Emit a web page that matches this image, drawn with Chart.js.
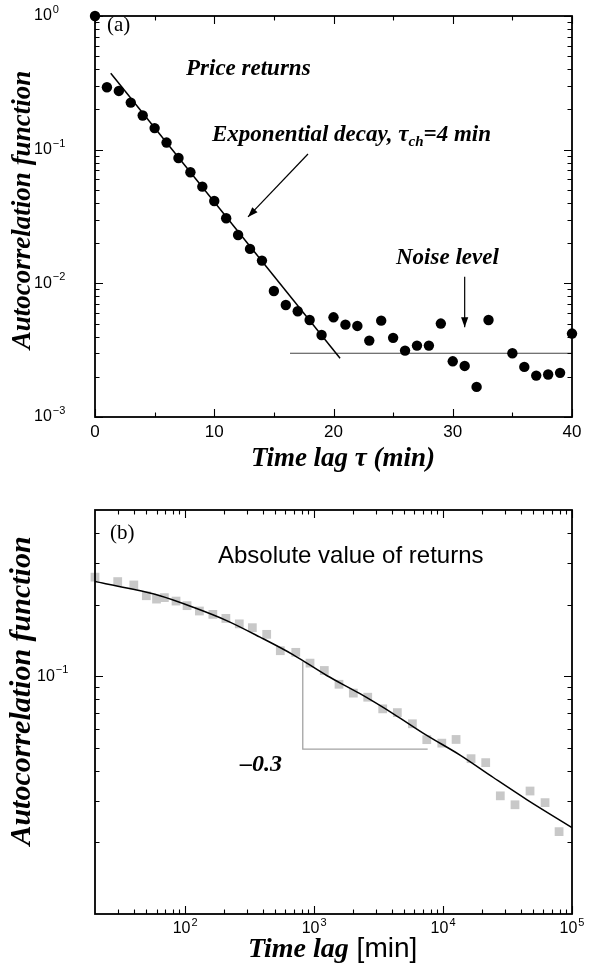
<!DOCTYPE html>
<html>
<head>
<meta charset="utf-8">
<script src="https://cdn.jsdelivr.net/npm/chart.js@4.4.1/dist/chart.umd.min.js"></script>
<style>
html,body{margin:0;padding:0;background:#fff;}
canvas{display:block;}
#wrapA{position:absolute;left:0;top:0;width:593px;height:480px;}
#wrapB{position:absolute;left:0;top:480px;width:593px;height:492px;}
</style>
</head>
<body>
<div id="wrapA"><canvas id="chartA" width="593" height="480"></canvas></div>
<div id="wrapB"><canvas id="chartB" width="593" height="492"></canvas></div>
<script>
// ================= Panel (a): price returns =================
const lagA = [0,1,2,3,4,5,6,7,8,9,10,11,12,13,14,15,16,17,18,19,20,21,22,23,24,25,26,27,28,29,30,31,32,33,35,36,37,38,39,40];
const acfPrice = [1.0,0.293,0.275,0.225,0.180,0.145,0.113,0.0867,0.0678,0.0529,0.0413,0.0307,0.0230,0.0181,0.0148,
  0.00877,0.00689,0.00618,0.00532,0.00411,0.00557,0.00491,0.00480,0.00373,0.00526,0.00391,0.00314,0.00342,0.00342,
  0.00500,0.00261,0.00241,0.00168,0.00532,0.00300,0.00237,0.00204,0.00208,0.00214,0.00421];
const expFitLag = [1.32, 20.55];
const expFitVal = [0.3726, 0.00275];
const noiseLag = [16.35, 40];
const noiseVal = [0.0030, 0.0030];
const arrowExpLag = [17.86, 12.83];
const arrowExpVal = [0.0928, 0.0314];
const arrowNoiseLag = [31, 31];
const arrowNoiseVal = [0.0112, 0.0047];
const xTicksA = [0, 10, 20, 30, 40];
const xTickLabelsA = ['0', '10', '20', '30', '40'];
const xMinorA = [5, 15, 25, 35];
const yTicksA = [0.001, 0.01, 0.1, 1];
const yTickBaseA = ['10', '10', '10', '10'];
const yTickExpA = ['\u22123', '\u22122', '\u22121', '0'];
const yMinorA = [0.002,0.003,0.004,0.005,0.006,0.007,0.008,0.009,
                 0.02,0.03,0.04,0.05,0.06,0.07,0.08,0.09,
                 0.2,0.3,0.4,0.5,0.6,0.7,0.8,0.9];

// ================= Panel (b): absolute returns =================
const lagB = [20,30,40,50,60,69,85,103.5,129,164,207,263,332,429,547,721,930,1200,1560,2015,2606,3405,4421,5785,
  7480,9780,12620,16490,21420,27800,36140,47270,61800,79400];
const acfAbs = [0.261,0.250,0.242,0.218,0.211,0.214,0.207,0.198,0.188,0.182,0.175,0.166,0.160,0.150,0.128,0.126,
  0.1135,0.1057,0.0925,0.0849,0.0816,0.0729,0.0703,0.0631,0.0541,0.0523,0.0542,0.0450,0.0433,0.0314,0.0288,
  0.0329,0.0294,0.0222];
const fitLagB = [20,35.3,63.8,115.7,210,381,690,1253,2270,4120,7480,13550,24550,44550,100000];
const fitValB = [0.250,0.235,0.218,0.195,0.1714,0.146,0.123,0.1007,0.0844,0.0695,0.0564,0.0466,0.0375,0.0303,0.0231];
const slopeLag = [817, 817, 7600];
const slopeVal = [0.1153, 0.0494, 0.0494];
const xTicksB = [100, 1000, 10000, 100000];
const xTickBaseB = ['10', '10', '10', '10'];
const xTickExpB = ['2', '3', '4', '5'];
const xMinorB = [30,40,50,60,70,80,90,200,300,400,500,600,700,800,900,
                 2000,3000,4000,5000,6000,7000,8000,9000,20000,30000,40000,50000,60000,70000,80000,90000];
const yTicksB = [0.1];
const yTickBaseB = ['10'];
const yTickExpB = ['\u22121'];
const yMinorB = [0.02,0.03,0.04,0.05,0.06,0.07,0.08,0.09,0.2,0.3,0.4];

// ================= helpers =================
const SERIF = '"Liberation Serif", "Times New Roman", serif';
const SANS = '"Liberation Sans", Arial, Helvetica, sans-serif';
const pts = (xs, ys) => xs.map((x, i) => ({x: x, y: ys[i]}));

function drawRuns(ctx, item) {
  ctx.save();
  ctx.translate(item.x, item.y);
  if (item.rotate) ctx.rotate(item.rotate);
  ctx.textBaseline = 'alphabetic';
  ctx.textAlign = 'left';
  let total = 0;
  item.runs.forEach(r => { ctx.font = r.font; total += ctx.measureText(r.text).width; });
  let cx = item.align === 'center' ? -total / 2 : 0;
  item.runs.forEach(r => {
    ctx.font = r.font;
    ctx.fillStyle = '#000';
    ctx.fillText(r.text, cx, r.dy || 0);
    cx += ctx.measureText(r.text).width;
  });
  ctx.restore();
}

// tick label: base text with optional superscript exponent
function drawTickLabel(ctx, base, exp, x, y, align, size) {
  ctx.save();
  ctx.fillStyle = '#000';
  ctx.textBaseline = 'middle';
  ctx.textAlign = 'left';
  const baseFont = size + 'px ' + SANS;
  const supFont = Math.round(size * 0.66) + 'px ' + SANS;
  ctx.font = baseFont;
  const wb = ctx.measureText(base).width;
  ctx.font = supFont;
  const we = exp ? ctx.measureText(exp).width + 1 : 0;
  const x0 = align === 'center' ? x - (wb + we) / 2 : x;
  ctx.font = baseFont;
  ctx.fillText(base, x0, y);
  if (exp) {
    ctx.font = supFont;
    ctx.fillText(exp, x0 + wb + 1, y - size * 0.38);
  }
  ctx.restore();
}

function decorPlugin(cfg) {
  return {
    id: 'decor',
    afterDatasetsDraw(chart) {
      const ctx = chart.ctx, a = chart.chartArea, sx = chart.scales.x, sy = chart.scales.y;
      ctx.save();
      ctx.strokeStyle = '#000';
      ctx.lineWidth = 1.1;
      const tx = (vals, len) => vals.forEach(v => {
        const p = Math.round(sx.getPixelForValue(v)) + 0.5;
        ctx.beginPath();
        ctx.moveTo(p, a.bottom); ctx.lineTo(p, a.bottom - len);
        ctx.moveTo(p, a.top); ctx.lineTo(p, a.top + len);
        ctx.stroke();
      });
      const ty = (vals, len) => vals.forEach(v => {
        const p = Math.round(sy.getPixelForValue(v)) + 0.5;
        ctx.beginPath();
        ctx.moveTo(a.left, p); ctx.lineTo(a.left + len, p);
        ctx.moveTo(a.right, p); ctx.lineTo(a.right - len, p);
        ctx.stroke();
      });
      tx(cfg.xMajor, 8); tx(cfg.xMinor, 4.5);
      ty(cfg.yMajor, 8); ty(cfg.yMinor, 4.5);
      // frame
      ctx.lineWidth = 1.8;
      ctx.strokeRect(a.left, a.top, a.right - a.left, a.bottom - a.top);
      // tick labels, positioned through the chart scales
      cfg.xMajor.forEach((v, i) => drawTickLabel(ctx, cfg.xBase[i], cfg.xExp ? cfg.xExp[i] : '',
        sx.getPixelForValue(v), a.bottom + cfg.xLabelDy, 'center', cfg.xLabelSize));
      cfg.yMajor.forEach((v, i) => drawTickLabel(ctx, cfg.yBase[i], cfg.yExp ? cfg.yExp[i] : '',
        cfg.yLabelX, sy.getPixelForValue(v), 'left', cfg.yLabelSize));
      // arrow heads on datasets flagged as arrows
      chart.data.datasets.forEach((ds, i) => {
        if (!ds.arrow) return;
        const el = chart.getDatasetMeta(i).data;
        const p1 = el[el.length - 2], p2 = el[el.length - 1];
        const ang = Math.atan2(p2.y - p1.y, p2.x - p1.x);
        const L = 10, W = 3.6;
        ctx.fillStyle = '#000';
        ctx.beginPath();
        ctx.moveTo(p2.x, p2.y);
        ctx.lineTo(p2.x - L * Math.cos(ang) + W * Math.sin(ang), p2.y - L * Math.sin(ang) - W * Math.cos(ang));
        ctx.lineTo(p2.x - L * Math.cos(ang) - W * Math.sin(ang), p2.y - L * Math.sin(ang) + W * Math.cos(ang));
        ctx.closePath();
        ctx.fill();
      });
      cfg.texts.forEach(t => drawRuns(ctx, t));
      ctx.restore();
    }
  };
}

function axis(type, min, max, ticks, fit) {
  return {
    type: type, min: min, max: max,
    grid: {display: false, drawTicks: false},
    border: {display: false},
    ticks: {display: false, autoSkip: false},
    afterBuildTicks: s => { s.ticks = ticks.map(v => ({value: v})); },
    afterFit: fit
  };
}

const BI = (px) => 'italic bold ' + px + 'px ' + SERIF;

// ================= Chart (a) =================
new Chart(document.getElementById('chartA'), {
  type: 'scatter',
  data: {
    datasets: [
      {label: 'Price returns', data: pts(lagA, acfPrice), pointRadius: 5.2, pointBackgroundColor: '#000',
       pointBorderWidth: 0, showLine: false, clip: false, order: 0},
      {label: 'Exponential decay', data: pts(expFitLag, expFitVal), showLine: true, pointRadius: 0,
       borderColor: '#000', borderWidth: 1.5, order: 1},
      {label: 'Noise level', data: pts(noiseLag, noiseVal), showLine: true, pointRadius: 0,
       borderColor: '#444', borderWidth: 1.1, order: 2},
      {label: 'arrow exp', arrow: true, data: pts(arrowExpLag, arrowExpVal), showLine: true, pointRadius: 0,
       borderColor: '#000', borderWidth: 1.2, order: 3},
      {label: 'arrow noise', arrow: true, data: pts(arrowNoiseLag, arrowNoiseVal), showLine: true, pointRadius: 0,
       borderColor: '#000', borderWidth: 1.2, order: 4}
    ]
  },
  options: {
    responsive: false, animation: false, devicePixelRatio: 1, events: [],
    layout: {padding: {left: 35, right: 21, top: 16, bottom: 0}},
    plugins: {legend: {display: false}, tooltip: {enabled: false}},
    scales: {
      x: axis('linear', 0, 40, xTicksA, s => { s.height = 63; }),
      y: axis('logarithmic', 0.001, 1, yTicksA, s => { s.width = 60; })
    }
  },
  plugins: [decorPlugin({
    xMajor: xTicksA, xMinor: xMinorA, yMajor: yTicksA, yMinor: yMinorA,
    xBase: xTickLabelsA, xExp: null, xLabelDy: 15, xLabelSize: 17,
    yBase: yTickBaseA, yExp: yTickExpA, yLabelX: 34, yLabelSize: 16,
    texts: [
      {x: 107, y: 31, runs: [{text: '(a)', font: '21px ' + SERIF}]},
      {x: 186, y: 75, runs: [{text: 'Price returns', font: BI(23)}]},
      {x: 212, y: 141, runs: [
        {text: 'Exponential decay, \u03C4', font: BI(23)},
        {text: 'ch', font: BI(15), dy: 5},
        {text: '=4 min', font: BI(23)}]},
      {x: 396, y: 264, runs: [{text: 'Noise level', font: BI(23)}]},
      {x: 343, y: 466, align: 'center', runs: [{text: 'Time lag \u03C4 (min)', font: BI(27)}]},
      {x: 30, y: 210, align: 'center', rotate: -Math.PI / 2, runs: [{text: 'Autocorrelation function', font: BI(27)}]}
    ]
  })]
});

// ================= Chart (b) =================
new Chart(document.getElementById('chartB'), {
  type: 'scatter',
  data: {
    datasets: [
      {label: 'Fit', data: pts(fitLagB, fitValB), showLine: true, pointRadius: 0, borderColor: '#000',
       borderWidth: 1.5, tension: 0.4, cubicInterpolationMode: 'monotone', order: 0},
      {label: 'Absolute value of returns', data: pts(lagB, acfAbs), pointStyle: 'rect', pointRadius: 6.2,
       pointBackgroundColor: '#c8c8c8', pointBorderWidth: 0, showLine: false, clip: false, order: 1},
      {label: 'Slope -0.3', data: pts(slopeLag, slopeVal), showLine: true, pointRadius: 0,
       borderColor: '#a3a3a3', borderWidth: 1.3, order: 2}
    ]
  },
  options: {
    responsive: false, animation: false, devicePixelRatio: 1, events: [],
    layout: {padding: {left: 37, right: 21, top: 30, bottom: 0}},
    plugins: {legend: {display: false}, tooltip: {enabled: false}},
    scales: {
      x: axis('logarithmic', 20, 100000, xTicksB, s => { s.height = 58; }),
      y: axis('logarithmic', 0.01, 0.5, yTicksB, s => { s.width = 58; })
    }
  },
  plugins: [decorPlugin({
    xMajor: xTicksB, xMinor: xMinorB, yMajor: yTicksB, yMinor: yMinorB,
    xBase: xTickBaseB, xExp: xTickExpB, xLabelDy: 15, xLabelSize: 16,
    yBase: yTickBaseB, yExp: yTickExpB, yLabelX: 37, yLabelSize: 16,
    texts: [
      {x: 110, y: 59, runs: [{text: '(b)', font: '21px ' + SERIF}]},
      {x: 218, y: 83, runs: [{text: 'Absolute value of returns', font: '24px ' + SANS}]},
      {x: 240, y: 291, runs: [{text: '\u20130.3', font: BI(24)}]},
      {x: 248, y: 477, runs: [
        {text: 'Time lag', font: BI(28)},
        {text: ' [min]', font: '28px ' + SANS}]},
      {x: 30, y: 211, align: 'center', rotate: -Math.PI / 2, runs: [{text: 'Autocorrelation function', font: BI(30)}]}
    ]
  })]
});
</script>
</body>
</html>
